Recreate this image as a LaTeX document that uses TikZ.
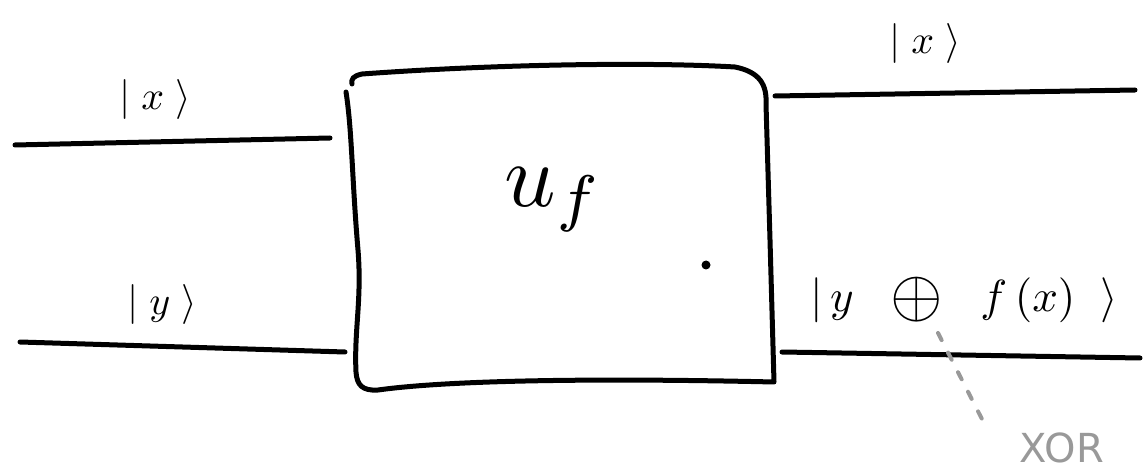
\documentclass[tikz,border=0pt]{standalone}
\usepackage{amsmath}
\usepackage{graphicx}
\usepackage{fontspec}
\newfontfamily\xorfont{DejaVu Sans}
\begin{document}
\begin{tikzpicture}[x=1pt,y=-1pt,
  wire/.style={line width=5pt,line cap=round,black},
  ket/.style={inner sep=0pt},
  note/.style={font=\fontsize{40}{44}\xorfont,gray!80,inner sep=0pt}]
\useasboundingbox (0,0) rectangle (1146,470);
% box
\draw[line width=5pt,line cap=round,line join=round]
  (352,84) .. controls (351,79) and (353,76) .. (362,74)
  .. controls (500,64) and (650,62) .. (735,67)
  .. controls (760,72) and (767,85) .. (766,104)
  -- (770,240) -- (774,382)
  .. controls (600,378) and (450,380) .. (378,390)
  .. controls (362,391) and (357,385) .. (356,372)
  .. controls (354,330) and (362,300) .. (358,250)
  .. controls (352,180) and (352,130) .. (346,92);
\coordinate (boxL1) at (330,138);
\coordinate (boxL2) at (345,352);
\coordinate (boxR1) at (775,96);
\coordinate (boxR2) at (782,352);
\coordinate (inL1) at (15,145);
\coordinate (inL2) at (20,342);
\coordinate (outR1) at (1135,90);
\coordinate (outR2) at (1140,358);
\draw[wire] (inL1) -- (boxL1);
\draw[wire] (inL2) -- (boxL2);
\draw[wire] (boxR1) -- (outR1);
\draw[wire] (boxR2) -- (outR2);
% labels
\node[ket] (kx1) at (155,100) {\scalebox{4}{$\lvert\;x\;\rangle$}};
\node[ket] (ky1) at (162,305) {\scalebox{4}{$\lvert\;y\;\rangle$}};
\node[ket] (kx2) at (925,44) {\scalebox{4}{$\lvert\;x\;\rangle$}};
\node[ket,anchor=west] (kyf) at (810,300) {\scalebox{4.5}{$\lvert\,y\hspace{6pt}\mathbin{\vcenter{\hbox{\scalebox{1.5}{$\oplus$}}}}\hspace{6pt}f\,(x)\;\;\rangle$}};
\node[inner sep=0pt] (uf) at (554,200) {\scalebox{9}{$u_f$}};
\fill (706,265) circle (4.5pt);
\coordinate (xorpt) at (938,333);
\node[note,anchor=base] (xor) at (1062,462) {XOR};
\draw[gray!80,line width=4pt,dash pattern=on 8pt off 14pt,line cap=round] (xorpt) -- (985,425);
\end{tikzpicture}
\end{document}
